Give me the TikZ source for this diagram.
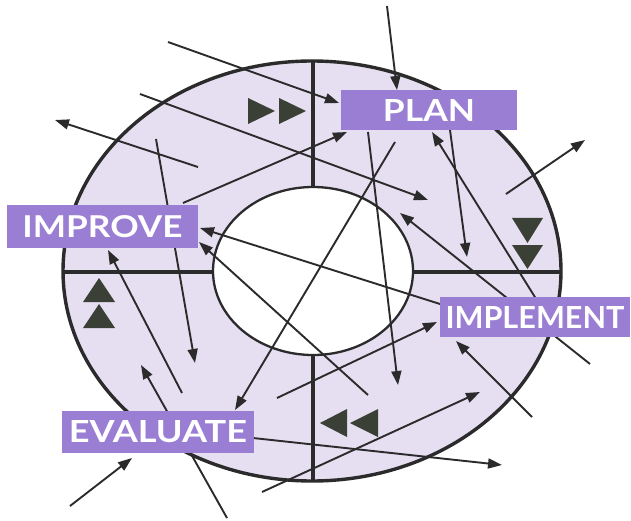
\documentclass[tikz,border=0pt]{standalone}
\usepackage{fontspec}
\setmainfont{Lato}
\usetikzlibrary{arrows.meta}
\definecolor{ring}{HTML}{E6DEF1}
\definecolor{boxc}{HTML}{9A7ED3}
\definecolor{ink}{HTML}{2B2B2B}
\definecolor{tri}{HTML}{3A4035}
\tikzset{
  arr/.style={draw=ink, line width=1.9pt, -{Triangle[length=14pt,width=10pt]}},
  lbl/.style={fill=boxc, text=white, inner sep=0pt, font=\bfseries},
  trimark/.style={fill=tri},
  divider/.style={draw=ink, line width=3.8pt}
}
\newcommand{\lbltext}[2]{\resizebox{#1pt}{22pt}{#2}}
\begin{document}
\begin{tikzpicture}[x=1pt,y=-1pt]
\useasboundingbox (0,0) rectangle (631,521);
% ring
\fill[ring] (312,271) ellipse [x radius=249pt, y radius=210pt];
\draw[ink, line width=3.4pt] (312,271) ellipse [x radius=249pt, y radius=210pt];
\filldraw[fill=white, draw=ink, line width=2.3pt] (313,271) ellipse [x radius=100pt, y radius=84pt];
% dividers
\coordinate (vt1) at (313,61);  \coordinate (vt2) at (313,187);
\coordinate (vb1) at (313,355); \coordinate (vb2) at (313,481);
\coordinate (hl1) at (63,272);  \coordinate (hl2) at (212,272);
\coordinate (hr1) at (413,272); \coordinate (hr2) at (561,272);
\draw[divider] (vt1) -- (vt2);
\draw[divider] (vb1) -- (vb2);
\draw[divider] (hl1) -- (hl2);
\draw[divider] (hr1) -- (hr2);
% triangles
\fill[trimark] (248,98) -- (248,124) -- (275,111) -- cycle;
\fill[trimark] (279,98) -- (279,124) -- (306,111) -- cycle;
\fill[trimark] (512,218) -- (543,218) -- (527.5,243) -- cycle;
\fill[trimark] (512,245) -- (543,245) -- (527.5,269) -- cycle;
\fill[trimark] (347,409) -- (347,437) -- (320,423) -- cycle;
\fill[trimark] (378,409) -- (378,437) -- (350,423) -- cycle;
\fill[trimark] (83,302) -- (115,302) -- (99,278) -- cycle;
\fill[trimark] (83,328) -- (115,328) -- (99,304) -- cycle;
% arrow end points
\coordinate (a1s) at (168,42);  \coordinate (a1e) at (339,103);
\coordinate (a2s) at (387,6);   \coordinate (a2e) at (397,90);
\coordinate (a3s) at (140,94);  \coordinate (a3e) at (428,200);
\coordinate (a4s) at (198,167); \coordinate (a4e) at (55,120);
\coordinate (a5s) at (156,139); \coordinate (a5e) at (195,363);
\coordinate (a6s) at (183,203); \coordinate (a6e) at (347,132);
\coordinate (a7s) at (368,132); \coordinate (a7e) at (398,385);
\coordinate (a8s) at (395,142); \coordinate (a8e) at (235,410);
\coordinate (a9s) at (450,130); \coordinate (a9e) at (467,257);
\coordinate (a10s) at (543,310); \coordinate (a10e) at (432,132);
\coordinate (a11s) at (590,364); \coordinate (a11e) at (400,213);
\coordinate (a12s) at (506,194); \coordinate (a12e) at (585,140);
\coordinate (a13s) at (440,304); \coordinate (a13e) at (200,228);
\coordinate (a14s) at (368,395); \coordinate (a14e) at (199,242);
\coordinate (a15s) at (277,398); \coordinate (a15e) at (437,322);
\coordinate (a16s) at (532,417); \coordinate (a16e) at (456,341);
\coordinate (a17s) at (262,492); \coordinate (a17e) at (480,392);
\coordinate (a18s) at (253,438); \coordinate (a18e) at (502,465);
\coordinate (a19s) at (70,506);  \coordinate (a19e) at (132,458);
\coordinate (a20s) at (227,518); \coordinate (a20e) at (141,365);
\coordinate (a21s) at (182,393); \coordinate (a21e) at (108,250);
\foreach \i in {1,...,21} {\draw[arr] (a\i s) -- (a\i e);}
% labels
\node[lbl, minimum width=176pt, minimum height=40pt] (plan) at (429,110) {\lbltext{92}{PLAN}};
\node[lbl, minimum width=191pt, minimum height=43pt] (improve) at (102.5,226.5) {\lbltext{160}{IMPROVE}};
\node[lbl, minimum width=190pt, minimum height=40pt] (implement) at (535,317) {\lbltext{179}{IMPLEMENT}};
\node[lbl, minimum width=192pt, minimum height=42pt] (evaluate) at (158,432) {\lbltext{178}{EVALUATE}};
\end{tikzpicture}
\end{document}
